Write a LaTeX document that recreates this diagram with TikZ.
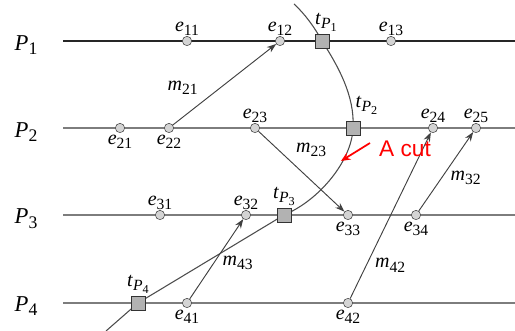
\documentclass[tikz,border=0pt]{standalone}
\usepackage{graphicx}
\usepackage{fontspec}
\setmainfont{Liberation Serif}
\newfontfamily\cutfont{Liberation Sans}
\usetikzlibrary{arrows.meta,backgrounds}
\definecolor{proclinie}{RGB}{125,125,125}
\definecolor{dogfill}{RGB}{212,212,212}
\definecolor{cutcrvena}{RGB}{255,0,0}
\newcommand{\ind}[1]{\raisebox{-0.45ex}{\scalebox{0.78}{#1}}}
\newcommand{\ev}[1]{\textit{e}\ind{#1}}
\newcommand{\msg}[1]{\textit{m}\ind{#1}}
\newcommand{\tp}[1]{\textit{t}\ind{\textit{P}\ind{#1}}}

\begin{document}
\begin{tikzpicture}[
    x=0.75pt, y=-0.75pt,
    font=\fontsize{15}{17}\selectfont,
    dog/.style={circle,draw=black!75,fill=dogfill,inner sep=0pt,minimum size=7pt},
    presek/.style={rectangle,draw=black!80,fill=black!30,inner sep=0pt,minimum size=10.5pt},
    proc/.style={draw=proclinie,line width=0.9pt},
    poruka/.style={draw=black!75,line width=0.7pt,-{Stealth[length=7pt,width=5pt]}},
    rez/.style={draw=black!70,line width=0.8pt}
]
\useasboundingbox (0,0) rectangle (515,331);

% procesi
\node (P1) at (26,45) {\fontsize{17}{19}\selectfont\textit{P}\ind{1}};
\node (P2) at (26,132) {\fontsize{17}{19}\selectfont\textit{P}\ind{2}};
\node (P3) at (26,219) {\fontsize{17}{19}\selectfont\textit{P}\ind{3}};
\node (P4) at (26,306) {\fontsize{17}{19}\selectfont\textit{P}\ind{4}};
\coordinate (k1) at (515,41);
\coordinate (k2) at (515,128);
\coordinate (k3) at (515,215);
\coordinate (k4) at (515,303);
\draw[proc,draw=black!85] (63,41) -- (k1);
\draw[proc] (63,128) -- (k2);
\draw[proc] (63,215) -- (k3);
\draw[proc] (63,303) -- (k4);

% dogadjaji
\node[dog,label={[yshift=-3pt]above:\ev{11}}] (e11) at (187,41) {};
\node[dog,label={[yshift=-3pt]above:\ev{12}}] (e12) at (280,41) {};
\node[dog,label={[yshift=-3pt]above:\ev{13}}] (e13) at (391,41) {};
\node[dog,label={[yshift=2pt]below:\ev{21}}] (e21) at (120,128) {};
\node[dog,label={[yshift=2pt]below:\ev{22}}] (e22) at (169,128) {};
\node[dog,label={[yshift=-3pt]above:\ev{23}}] (e23) at (255,128) {};
\node[dog,label={[yshift=-3pt]above:\ev{24}}] (e24) at (433,128) {};
\node[dog,label={[yshift=-3pt]above:\ev{25}}] (e25) at (476,128) {};
\node[dog,label={[yshift=-3pt]above:\ev{31}}] (e31) at (160,215) {};
\node[dog,label={[yshift=-3pt]above:\ev{32}}] (e32) at (246,215) {};
\node[dog,label={[yshift=2pt]below:\ev{33}}] (e33) at (348,215) {};
\node[dog,label={[yshift=2pt]below:\ev{34}}] (e34) at (416,215) {};
\node[dog,label={[yshift=2pt]below:\ev{41}}] (e41) at (187,303) {};
\node[dog,label={[yshift=2pt]below:\ev{42}}] (e42) at (348,303) {};

% presek
\node[presek,label={[xshift=3pt,yshift=-2pt]above:\tp{1}}] (tP1) at (322,41) {};
\node[presek,label={[xshift=10pt,yshift=1pt]above:\tp{2}}] (tP2) at (353,128) {};
\node[presek,label={[yshift=-2pt]above:\tp{3}}] (tP3) at (284,215) {};
\node[presek,label={[yshift=-2pt]above:\tp{4}}] (tP4) at (138,303) {};
\coordinate (rezgore) at (294,4);
\coordinate (rezdole) at (106,331);
\begin{scope}[on background layer]
\draw[rez] (rezgore) .. controls (305,14) and (315,28) .. (tP1.center)
    .. controls (338,66) and (355,96) .. (tP2.center)
    .. controls (352,160) and (320,200) .. (tP3.center)
    -- (tP4.center) -- (rezdole);
\end{scope}

% poruke
\draw[poruka] (e22) -- (e12) node[pos=0.3,above left=1pt] {\msg{21}};
\draw[poruka] (e23) -- (e33) node[pos=0.38,above right=0pt] {\msg{23}};
\draw[poruka] (e41) -- (e32) node[pos=0.45,right=3pt] {\msg{43}};
\draw[poruka] (e42) -- (e24) node[pos=0.2,right=3pt] {\msg{42}};
\draw[poruka] (e34) -- (e25) node[pos=0.42,right=3pt] {\msg{32}};

% oznaka
\node[text=cutcrvena,font=\cutfont\fontsize{17}{19}\selectfont] (acut) at (405,149) {A cut};
\coordinate (strelkraj) at (341,161);
\draw[cutcrvena,line width=1.3pt,-{Stealth[length=7pt,width=6pt]}] (370,143) -- (strelkraj);
\end{tikzpicture}
\end{document}
